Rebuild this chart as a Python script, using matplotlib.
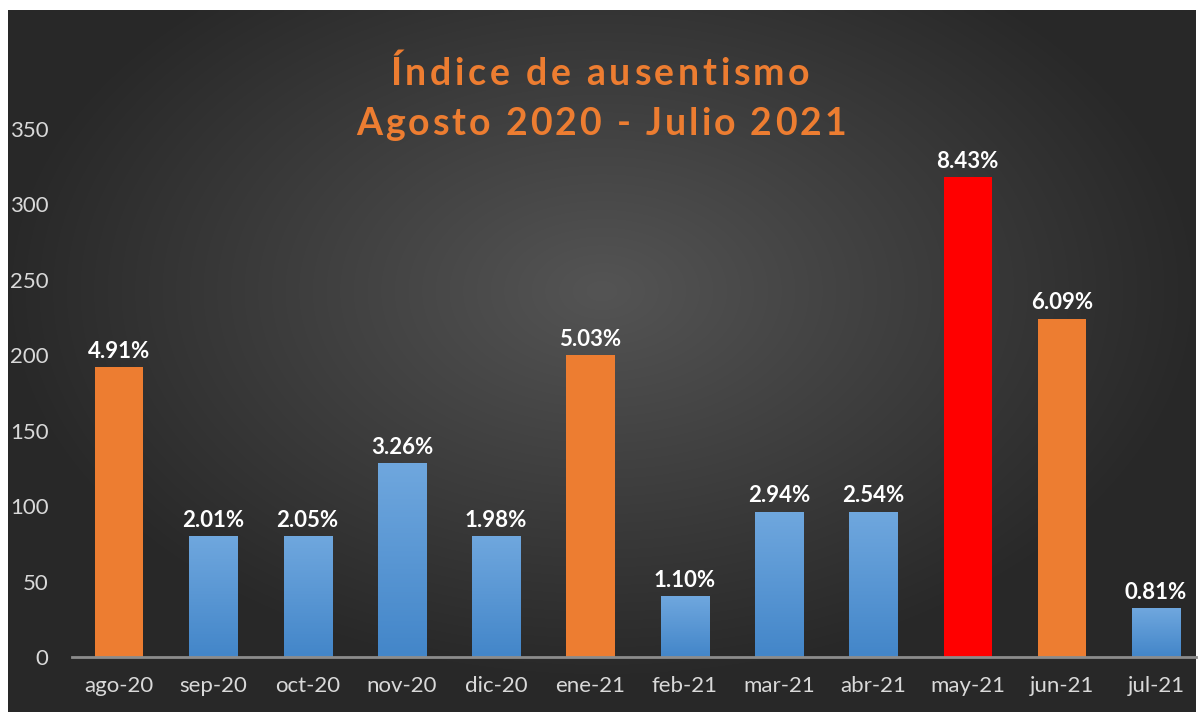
import matplotlib.pyplot as plt
import numpy as np
from matplotlib.colors import LinearSegmentedColormap

months = ["ago-20", "sep-20", "oct-20", "nov-20", "dic-20", "ene-21",
          "feb-21", "mar-21", "abr-21", "may-21", "jun-21", "jul-21"]
values = [192, 80, 80, 128, 80, 200, 40, 96, 96, 318, 224, 32]
labels = ["4.91%", "2.01%", "2.05%", "3.26%", "1.98%", "5.03%",
          "1.10%", "2.94%", "2.54%", "8.43%", "6.09%", "0.81%"]
kinds = ["o", "b", "b", "b", "b", "o", "b", "b", "b", "r", "o", "b"]
yticks = [0, 50, 100, 150, 200, 250, 300, 350]
title_lines = ["Índice de ausentismo", "Agosto 2020 - Julio 2021"]

W, H = 1198, 715
fig = plt.figure(figsize=(W / 100, H / 100), dpi=100)
fig.patch.set_facecolor("white")

# dark background panel with a soft radial highlight
bg = fig.add_axes([8 / W, 1 - 712 / H, (1196 - 8) / W, (712 - 10) / H])
gx, gy = np.meshgrid(np.linspace(-1, 1, 400), np.linspace(-1, 1, 240))
r = np.sqrt((gx / 1.0) ** 2 + ((gy + 0.2) / 1.1) ** 2)
r = np.clip(r, 0, 1)
shade = 0.33 - 0.17 * r
bg.imshow(np.dstack([shade] * 3), aspect="auto", extent=[0, 1, 0, 1],
          interpolation="bicubic")
bg.set_axis_off()

x0, x1 = 72, 1196
ytop, ybot = 129, 657
ax = fig.add_axes([x0 / W, 1 - ybot / H, (x1 - x0) / W, (ybot - ytop) / H])
ax.set_facecolor("none")
ax.set_xlim(-0.5, -0.5 + (x1 - x0) / 94.27)
ax.set_ylim(0, 350)

colors = {"o": "#ED7D31", "r": "#FF0000", "b": "#5B9BD5"}
blue_cmap = LinearSegmentedColormap.from_list("bl", ["#4386C9", "#6FA7DE"])
xs = np.arange(len(months))
width = 0.51
bars = ax.bar(xs, values, width=width, color=[colors[k] for k in kinds], zorder=2)
grad = np.linspace(0, 1, 100).reshape(-1, 1)
for b, k in zip(bars, kinds):
    if k == "b":
        b.set_facecolor("none")
        ax.imshow(grad, cmap=blue_cmap, origin="lower", aspect="auto",
                  extent=[b.get_x(), b.get_x() + b.get_width(), 0, b.get_height()],
                  zorder=2)

for xv, v, t in zip(xs, values, labels):
    ax.annotate(t, (xv, v), xytext=(0, 7), textcoords="offset points",
                ha="center", va="baseline", color="white",
                fontsize=16, fontweight="bold", family="Lato")

ax.set_xticks(xs)
ax.set_xticklabels(months, family="Lato", fontsize=16, color="#D9D9D9")
ax.set_yticks(yticks)
ax.set_yticklabels([str(t) for t in yticks], family="Lato", fontsize=16, color="#D9D9D9")
ax.tick_params(axis="x", length=0, pad=14)
ax.tick_params(axis="y", length=0, pad=17)
for s in ["top", "right", "left"]:
    ax.spines[s].set_visible(False)
ax.spines["bottom"].set_color("#8C8C8C")
ax.spines["bottom"].set_linewidth(2)
ax.spines["bottom"].set_zorder(3)

# title with letter spacing, laid out one character at a time
renderer = fig.canvas.get_renderer()
tkw = dict(color="#ED7D31", fontsize=27, fontweight="bold", family="Lato")


def text_w(s):
    t = fig.text(0, 0, s, **tkw)
    w = t.get_window_extent(renderer).width
    t.remove()
    return w


def spaced_title(s, xc, ybase, gap):
    n = len(s)
    total = text_w(s) + (n - 1) * gap
    left = xc - total / 2
    for i, ch in enumerate(s):
        if ch == " ":
            continue
        start = text_w(s[:i + 1]) - text_w(ch)
        fig.text((left + start + i * gap) / W, 1 - ybase / H, ch,
                 ha="left", va="baseline", **tkw)


spaced_title(title_lines[0], 600, 85, 3.6)
spaced_title(title_lines[1], 601, 135, 3.0)

fig.savefig("out.png", dpi=100)
